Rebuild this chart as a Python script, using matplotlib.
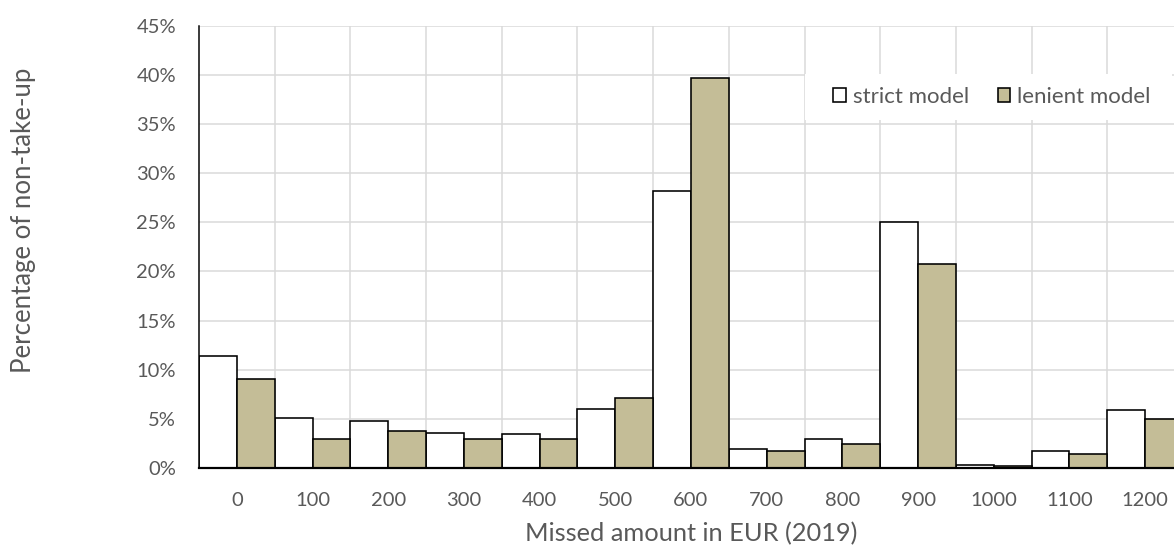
import matplotlib
matplotlib.use("Agg")
import matplotlib.pyplot as plt
from matplotlib.patches import Rectangle
import numpy as np

# Missed amount bins (EUR, 2019)
categories = ["0", "100", "200", "300", "400", "500", "600",
              "700", "800", "900", "1000", "1100", "1200"]
# Share of non-take-up per bin, in percent
strict_model = [11.4, 5.1, 4.8, 3.6, 3.5, 6.0, 28.2, 1.9, 2.9, 25.0, 0.3, 1.7, 5.9]
lenient_model = [9.1, 3.0, 3.8, 2.9, 3.0, 7.1, 39.7, 1.7, 2.4, 20.8, 0.2, 1.4, 5.0]
y_ticks = [0, 5, 10, 15, 20, 25, 30, 35, 40, 45]

TEXT = "#595959"
GRID = "#d9d9d9"
TAN = "#c4bd97"
FONT = "Lato"

W, H, DPI = 1174, 548, 100
fig = plt.figure(figsize=(W / DPI, H / DPI), dpi=DPI)
plt.rcParams["font.family"] = [FONT, "DejaVu Sans"]

# axes in pixel terms: left 199, right 1183 (runs past the canvas), bottom 468, top 25.7
left, right, bottom, top = 199, 1183, 468, 25.7
ax = fig.add_axes([left / W, (H - bottom) / H, (right - left) / W, (bottom - top) / H])

x = np.arange(len(categories))
bw = 0.5
lw = 1.6 * 72 / DPI
ax.bar(x - bw / 2, strict_model, width=bw, color="white", edgecolor="black",
       linewidth=lw, zorder=3, label="strict model")
ax.bar(x + bw / 2, lenient_model, width=bw, color=TAN, edgecolor="black",
       linewidth=lw, zorder=3, label="lenient model")

ax.set_xlim(-0.5, len(categories) - 0.5)
ax.set_ylim(0, 45)

ax.set_yticks(y_ticks)
ax.set_yticklabels([f"{v}%" for v in y_ticks])
ax.set_xticks(x)
ax.set_xticklabels(categories)
ax.grid(False)
# grid: horizontal at every 5%, vertical at category boundaries
for yv in y_ticks[1:]:
    ax.axhline(yv, color=GRID, linewidth=1.5 * 72 / DPI, zorder=0.5)
for xv in np.arange(len(categories) + 1)[1:] - 0.5:
    ax.axvline(xv, color=GRID, linewidth=1.5 * 72 / DPI, zorder=0.5)

ax.tick_params(axis="both", which="both", length=0, labelsize=14.5, colors=TEXT)
ax.tick_params(axis="y", pad=16.5)
ax.tick_params(axis="x", pad=17)
for lab in ax.get_xticklabels() + ax.get_yticklabels():
    lab.set_color(TEXT)

for s in ("top", "right"):
    ax.spines[s].set_visible(False)
ax.spines["left"].set_linewidth(1.5 * 72 / DPI)
ax.spines["bottom"].set_linewidth(2.2 * 72 / DPI)
ax.spines["left"].set_zorder(4)
ax.spines["bottom"].set_zorder(4)

# white legend background covering the grid
lx0, lx1, ly0, ly1 = 805, 1172, 74, 120
ax.add_patch(Rectangle(((lx0 - left) / (right - left), (bottom - ly1) / (bottom - top)),
                       (lx1 - lx0) / (right - left), (ly1 - ly0) / (bottom - top),
                       transform=ax.transAxes, facecolor="white", edgecolor="none",
                       zorder=1, clip_on=False))
leg = ax.legend(loc="center", ncol=2, frameon=False, fontsize=16,
                bbox_to_anchor=((992 - left) / (right - left),
                                (bottom - 97) / (bottom - top)),
                handlelength=0.56, handleheight=0.56, handletextpad=0.32,
                columnspacing=1.3, borderaxespad=0, borderpad=0)
for t in leg.get_texts():
    t.set_color(TEXT)

fig.text(24 / W, 1 - 220 / H, "Percentage of non-take-up", rotation=90,
         ha="center", va="center", fontsize=18.5, color=TEXT)
fig.text(691 / W, 1 - 534 / H, "Missed amount in EUR (2019)",
         ha="center", va="center", fontsize=18.3, color=TEXT)

fig.savefig("out.png", dpi=DPI, facecolor="white")
